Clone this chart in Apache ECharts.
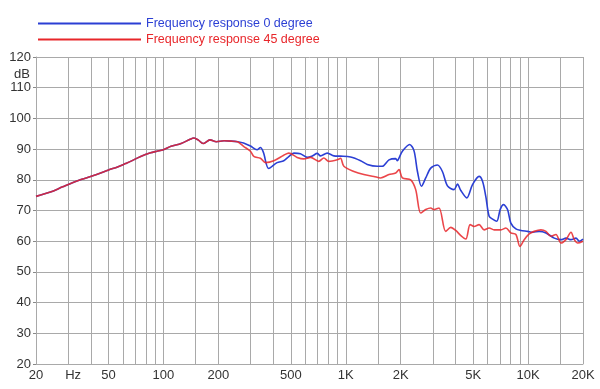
<!DOCTYPE html>
<html>
<head>
<meta charset="utf-8">
<script src="https://cdn.jsdelivr.net/npm/echarts@6/dist/echarts.min.js"></script>
<style>html,body{margin:0;padding:0;background:#fff}#c{width:600px;height:389px}</style>
</head>
<body>
<div id="c"></div>
<script>
// ---- data ----
const seriesNames = ['Frequency response 0 degree', 'Frequency response 45 degree'];

const freq0 = [20,24,28,35,43,50,56,62,66,75,85,92,100,110,125,140,147,155,165,180,195,215,235,255,
  275,300,326,340,353,378,420,457,485,519,564,614,657,697,727,791,861,936,1062,1206,
  1312,1490,1586,1726,1878,1918,1958,2044,2240,2366,2472,2600,2744,2924,3182,3388,3612,3926,4098,4276,
  4610,4954,5384,5624,5860,6112,6384,6734,7026,7332,7712,8040,8570,9124,9934,10580,11508,12530,13908,15140,
  16132,17184,18306,19092,20000];
const db0 = [74.6,76.0,77.7,80.0,81.7,83.2,84.2,85.3,86.0,87.6,88.8,89.3,89.8,90.9,91.8,93.2,93.6,93.0,91.8,93.0,92.4,92.7,92.6,92.4,
  92.0,91.0,89.8,90.5,89.0,83.7,85.6,86.2,87.5,88.7,88.5,87.3,87.8,88.6,87.8,88.7,87.8,87.7,87.4,86.2,
  85.0,84.4,84.4,86.5,86.9,86.2,87.1,89.3,91.5,89.5,82.7,77.9,80.6,83.8,84.8,82.7,78.0,76.8,78.6,76.5,
  74.1,78.4,81.1,79.5,74.6,68.1,67.2,66.5,70.3,71.9,70.3,65.9,64.0,63.5,63.2,62.9,63.2,62.7,61.0,60.5,
  61.0,60.5,61.0,60.0,60.7];

const freq45 = [20,24,28,35,43,50,56,62,66,75,85,92,100,110,125,140,147,155,165,180,195,215,235,255,
  275,300,313,340,363,403,457,487,541,589,641,711,758,807,898,936,976,1108,1256,1426,
  1552,1726,1878,1958,2044,2270,2418,2576,2744,2924,3048,3246,3532,3766,4010,4276,4552,4808,5058,5384,
  5740,6112,6512,7088,7552,8040,8570,9016,9518,10140,10800,11752,12530,13340,14218,15140,16132,17184,17916,18710,20000];
const db45 = [74.6,76.0,77.7,80.0,81.7,83.2,84.2,85.3,86.0,87.6,88.8,89.3,89.8,90.9,91.8,93.2,93.6,93.0,91.8,93.0,92.4,92.7,92.6,92.4,
  90.9,89.3,87.6,87.0,85.6,86.2,88.0,88.7,87.3,86.8,87.3,86.0,87.1,86.0,86.5,87.0,84.4,82.7,81.7,81.1,
  80.6,81.7,82.2,83.3,80.6,80.0,76.8,69.2,70.3,70.8,70.3,70.8,63.2,64.5,63.5,61.8,60.7,65.4,64.8,65.4,
  63.7,64.3,63.7,63.7,64.3,62.7,62.2,58.3,60.5,62.4,63.2,63.7,63.2,61.6,62.2,59.4,60.5,62.9,60.5,59.4,60.0];

const gridFreqs = [20,30,40,50,60,70,80,90,100,150,200,300,400,500,600,700,800,900,1000,1500,2000,3000,4000,5000,6000,7000,8000,9000,10000,15000,20000];
const xLabelFreqs = [20,30,50,100,200,500,1000,2000,5000,10000,20000];
const xLabelTexts = ['20','Hz','50','100','200','500','1K','2K','5K','10K','20K'];
const yMin = 20, yMax = 120, yStep = 10;
const yUnit = 'dB';

// ---- chart ----
const FONT = '"Liberation Sans", Arial, sans-serif';
const GRID = '#a9a9a9';
const BLUE = '#2b3fd4';
const RED = '#e8262a';
const lg = Math.log10;

function pairs(fs, ds) { return fs.map((f, i) => [lg(f), ds[i]]); }

const chart = echarts.init(document.getElementById('c'), null, {renderer: 'canvas'});
chart.setOption({
  animation: false,
  backgroundColor: '#fff',
  grid: {left: 36, right: 17, top: 57, bottom: 25, containLabel: false},
  legend: {
    orient: 'vertical', left: 38, top: 17, itemGap: 3, padding: 0,
    icon: 'rect', itemWidth: 103, itemHeight: 2,
    textStyle: {fontFamily: FONT, fontSize: 12.5},
    data: [
      {name: seriesNames[0], textStyle: {color: BLUE}},
      {name: seriesNames[1], textStyle: {color: RED}}
    ]
  },
  xAxis: {
    type: 'value', min: lg(20), max: lg(20000),
    axisLine: {show: true, lineStyle: {color: GRID, width: 1}},
    axisTick: {show: false, customValues: gridFreqs.map(lg)},
    splitLine: {show: true, lineStyle: {color: GRID, width: 1}},
    axisLabel: {
      customValues: xLabelFreqs.map(lg),
      margin: 5, color: '#333', fontFamily: FONT, fontSize: 13,
      formatter: function (v) {
        const f = Math.round(Math.pow(10, v));
        const i = xLabelFreqs.findIndex(x => Math.abs(x - f) < 0.5);
        if (i < 0) return '';
        const t = xLabelTexts[i];
        return t === 'Hz' ? '{hz|' + t + '}' : t;
      },
      rich: {hz: {padding: [0, 0, 0, 10], fontFamily: FONT, fontSize: 13, color: '#333'}}
    }
  },
  yAxis: {
    type: 'value', min: yMin, max: yMax, interval: yStep,
    axisLine: {show: true, lineStyle: {color: GRID, width: 1}},
    axisTick: {show: true, length: 3, lineStyle: {color: '#888'}},
    splitLine: {show: true, lineStyle: {color: GRID, width: 1}},
    axisLabel: {margin: 5, color: '#333', fontFamily: FONT, fontSize: 13}
  },
  graphic: [{
    type: 'text', x: 30, y: 74,
    style: {text: yUnit, align: 'right', verticalAlign: 'middle', fill: '#333', font: '13px ' + FONT}
  }],
  series: [
    {
      name: seriesNames[0], type: 'line', data: pairs(freq0, db0),
      showSymbol: false, smooth: 0.3, color: BLUE,
      lineStyle: {width: 1.6, color: BLUE}, z: 2
    },
    {
      name: seriesNames[1], type: 'line', data: pairs(freq45, db45),
      showSymbol: false, smooth: 0.3, color: RED,
      lineStyle: {width: 1.6, color: RED, opacity: 0.85}, z: 3
    }
  ]
});
</script>
</body>
</html>
